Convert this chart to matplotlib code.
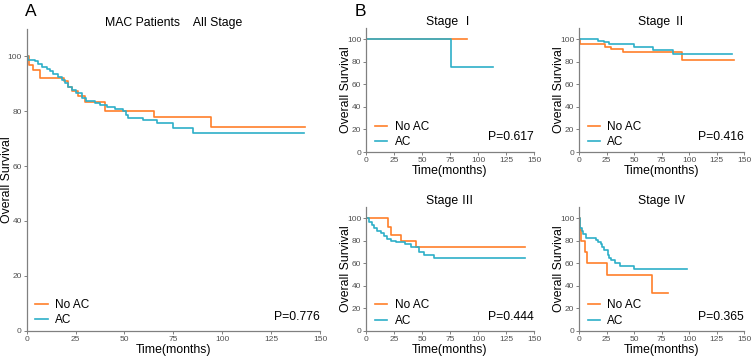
import matplotlib
matplotlib.use("Agg")
import matplotlib.pyplot as plt
from matplotlib.lines import Line2D

plt.rcParams['font.family'] = ['Liberation Sans', 'Noto Sans CJK SC', 'DejaVu Sans']

# colours of the two groups
c_noac = '#FF7F2A'
c_ac = '#2DAFC8'

# ---- Panel A: all stages (time in months, survival in %) ----
a_noac_t = [0, 1, 3, 7, 19, 21, 23, 26, 30, 40, 65, 94, 142.5]
a_noac_s = [100, 97, 95, 92.3, 91, 89, 87.5, 85.5, 83.3, 80.2, 78, 74.3, 74.3]
a_ac_t = [0, 0.8, 4.3, 6, 7.7, 10.2, 11.9, 13.6, 16.2, 17.9, 19.6, 21.3, 23, 25.2,
          28.1, 30.3, 34.9, 37.5, 40.9, 45.2, 49.4, 50.8, 52, 59.7, 66.5, 75, 85, 142]
a_ac_s = [100, 98.8, 98.2, 97.3, 96.3, 95.5, 94.6, 93.6, 92.6, 91.5, 90.2, 89, 87.7, 86.5,
          85, 83.8, 83.2, 82.3, 81.6, 81, 80, 78.8, 77.7, 76.8, 75.8, 74, 72.1, 72.1]

# ---- Panel B: by stage ----
s1_noac_t = [0, 90]
s1_noac_s = [100, 100]
s1_ac_t = [0, 76, 113]
s1_ac_s = [100, 75, 75]

s2_noac_t = [0, 0.5, 24, 29, 40, 94, 141]
s2_noac_s = [100, 96, 93.5, 91, 88.8, 82, 82]
s2_ac_t = [0, 17, 23, 27, 50, 67, 85, 139]
s2_ac_s = [100, 98.8, 97.6, 95.5, 93.3, 90.8, 86.5, 86.5]

s3_noac_t = [0, 19.5, 22, 31, 45, 142.3]
s3_noac_s = [100, 92.5, 85.2, 80.2, 74.2, 74.2]
s3_ac_t = [0, 3, 5, 7, 10, 13, 16, 19, 22, 27, 35, 40, 47, 52, 61, 142]
s3_ac_s = [100, 97, 94, 91.5, 89, 87, 84, 82, 80, 79.2, 77, 74.8, 70.3, 67.4, 64.4, 64.4]

s4_noac_t = [0, 1, 2, 5, 7, 25, 66, 81]
s4_noac_s = [100, 90, 80, 70, 60, 50, 33.3, 33.3]
s4_ac_t = [0, 1, 3, 4, 6, 15, 17, 20, 21, 23, 26, 27, 29, 33, 37, 50, 98]
s4_ac_s = [100, 91.5, 89, 86.5, 82.2, 81, 79.2, 77, 74.8, 71.8, 67, 64.5, 63, 60, 57.5, 54.5, 54.5]

labels = ['No AC', 'AC']
x_ticks = [0, 25, 50, 75, 100, 125, 150]
y_ticks = [0, 20, 40, 60, 80, 100]

fig = plt.figure(figsize=(7.54, 3.59), dpi=100)


def style_axes(ax, ylab_x, tick_fs=6, lab_fs=8.8):
    ax.set_xlim(0, 150)
    ax.set_ylim(0, 110)
    for side in ['top', 'right']:
        ax.spines[side].set_visible(False)
    for side in ['left', 'bottom']:
        ax.spines[side].set_color('#808080')
        ax.spines[side].set_linewidth(0.9)
    ax.set_xticks(x_ticks)
    ax.set_yticks(y_ticks)
    ax.tick_params(length=2, width=0.7, color='#808080', labelsize=tick_fs,
                   labelcolor='#505050', pad=1.5)
    ax.set_xlabel('Time(months)', fontsize=lab_fs, labelpad=1)
    ax.set_ylabel('Overall Survival', fontsize=lab_fs)
    # anchor is the right-hand edge of the rotated label
    ax.yaxis.set_label_coords(ylab_x, 0.5)


def km(ax, t, s, color):
    ax.step(t, s, where='post', color=color, lw=1.2)


def add_legend(ax, anchor, hl):
    handles = [Line2D([], [], color=c_noac, lw=1.2), Line2D([], [], color=c_ac, lw=1.2)]
    ax.legend(handles, labels, loc='lower left', bbox_to_anchor=anchor, frameon=False,
              fontsize=8.5, handlelength=hl, handletextpad=0.6, labelspacing=0.3,
              borderpad=0, borderaxespad=0)


# Panel A
axA = fig.add_axes([26.7 / 754, 1 - 330.7 / 359, 293.3 / 754, 301.7 / 359])
style_axes(axA, -13.5 / 293.3)
km(axA, a_noac_t, a_noac_s, c_noac)
km(axA, a_ac_t, a_ac_s, c_ac)
axA.set_title('MAC Patients    All Stage', fontsize=8.8, pad=1.5)
axA.text(150, 5, 'P=0.776', ha='right', va='center', fontsize=8.8)
add_legend(axA, (0.028, 0.014), 1.1)
fig.text(25 / 754, 1 - 11 / 359, 'A', fontsize=12.5, va='center', ha='left')
fig.text(355 / 754, 1 - 11 / 359, 'B', fontsize=12.5, va='center', ha='left')

# Panel B
b_panels = [
    ([366, 152, 168, 124], 'Stage Ⅰ', s1_noac_t, s1_noac_s, s1_ac_t, s1_ac_s, 'P=0.617', 13.5),
    ([579, 152, 165, 124], 'Stage Ⅱ', s2_noac_t, s2_noac_s, s2_ac_t, s2_ac_s, 'P=0.416', 13.5),
    ([366, 330.7, 168, 123.6], 'Stage Ⅲ', s3_noac_t, s3_noac_s, s3_ac_t, s3_ac_s, 'P=0.444', 12.5),
    ([579, 330.7, 165, 123.6], 'Stage Ⅳ', s4_noac_t, s4_noac_s, s4_ac_t, s4_ac_s, 'P=0.365', 12.5),
]
for (x0, y0, w, h), title, nt, ns, at, as_, ptxt, py in b_panels:
    ax = fig.add_axes([x0 / 754, 1 - y0 / 359, w / 754, h / 359])
    style_axes(ax, -14.0 / w)
    km(ax, nt, ns, c_noac)
    km(ax, at, as_, c_ac)
    ax.set_title(title, fontsize=8.8, pad=1.0)
    ax.text(150, py, ptxt, ha='right', va='center', fontsize=8.8)
    add_legend(ax, (0.054, 0.03), 1.05)

fig.savefig('out.png', dpi=100)
